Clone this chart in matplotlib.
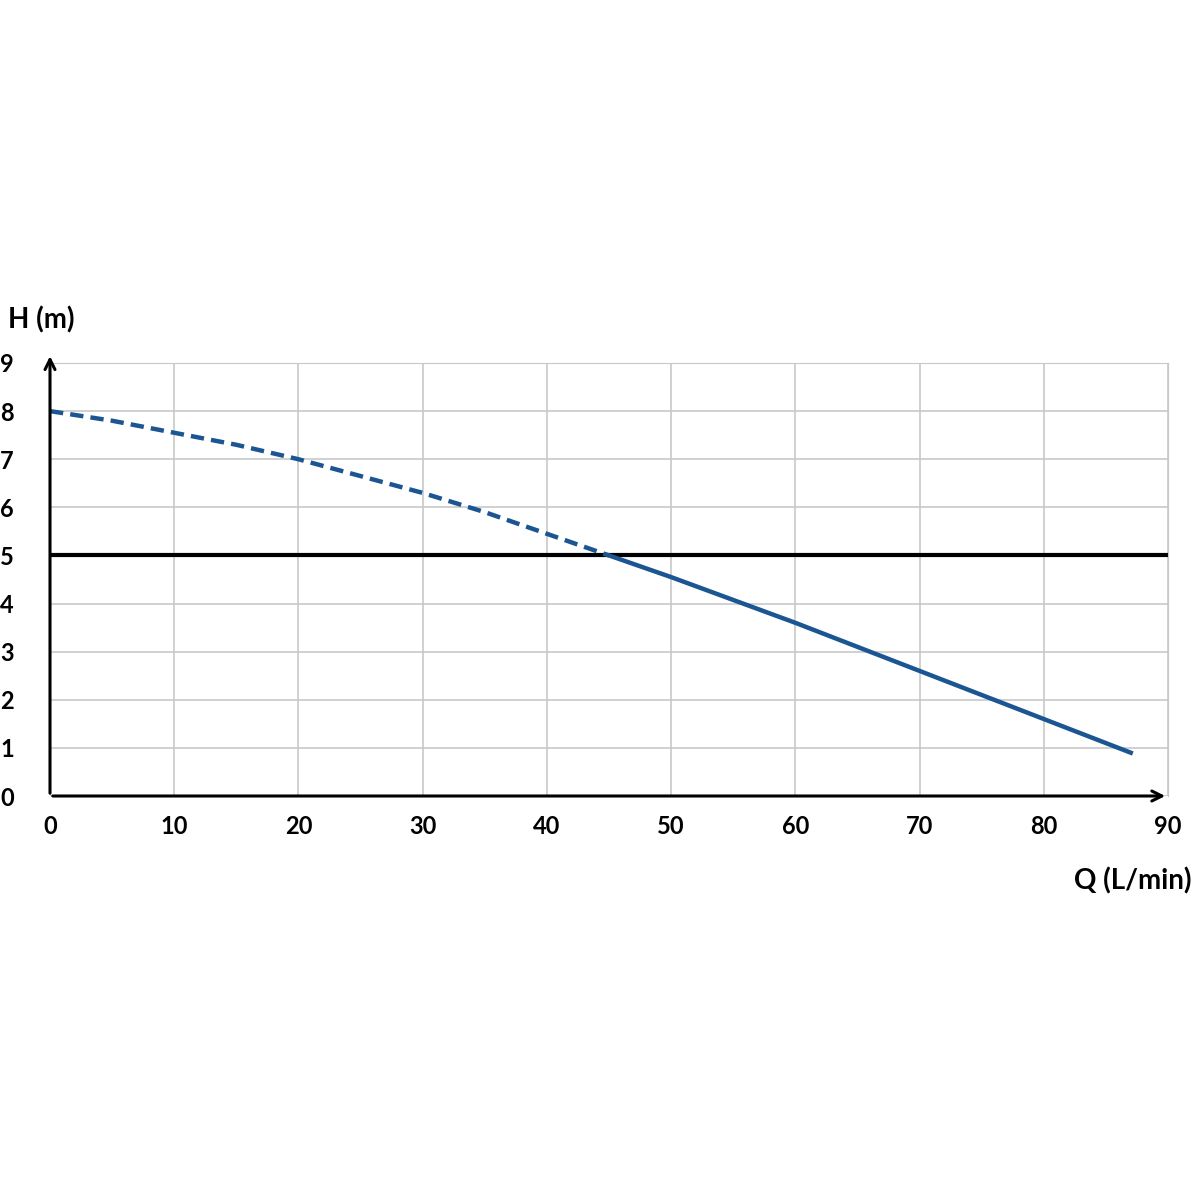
import matplotlib
matplotlib.use("Agg")
import matplotlib.pyplot as plt

q_dashed = [0, 5, 10, 15, 20, 25, 30, 35, 40, 45]
h_dashed = [8.0, 7.8, 7.55, 7.3, 7.0, 6.65, 6.3, 5.9, 5.45, 5.0]
q_solid = [45, 50, 60, 70, 80, 87]
h_solid = [5.0, 4.55, 3.6, 2.6, 1.6, 0.9]
h_limit = 5
x_ticks = list(range(0, 100, 10))
y_ticks = list(range(0, 10))

curve_color = "#1b5592"
plt.rcParams["font.family"] = ["Lato", "DejaVu Sans"]

fig = plt.figure(figsize=(12, 12), dpi=100)
ax = fig.add_axes([50 / 1200, 1 - 796 / 1200, 1118 / 1200, 433 / 1200])
ax.set_xlim(0, 90)
ax.set_ylim(0, 9)
ax.set_xticks(x_ticks)
ax.set_yticks(y_ticks)
ax.grid(True, color="#c8c8c8", linewidth=1.2)
for side in ("top", "right"):
    ax.spines[side].set_color("#c8c8c8")
for side in ("left", "bottom"):
    ax.spines[side].set_visible(False)
ax.tick_params(length=0, labelsize=17)
for lbl in ax.get_xticklabels() + ax.get_yticklabels():
    lbl.set_fontweight("bold")
ax.tick_params(axis="x", pad=14)
ax.tick_params(axis="y", pad=26)

# axis arrows
ax.annotate("", xy=(0, 9.2), xytext=(0, 0), xycoords="data",
            arrowprops=dict(arrowstyle="->", lw=2.2, color="black", mutation_scale=18),
            annotation_clip=False)
ax.annotate("", xy=(90, 0), xytext=(0, 0), xycoords="data",
            arrowprops=dict(arrowstyle="->", lw=2.2, color="black", mutation_scale=18),
            annotation_clip=False)

ax.axhline(h_limit, color="black", lw=3)
ax.plot(q_dashed, h_dashed, color=curve_color, lw=3.2, ls=(0, (3, 1.6)))
ax.plot(q_solid, h_solid, color=curve_color, lw=3.2)

fig.text(8 / 1200, 1 - 320 / 1200, "H (m)", fontsize=20, fontweight="bold", va="center")
fig.text(1192 / 1200, 1 - 881 / 1200, "Q (L/min)", fontsize=20, fontweight="bold",
         va="center", ha="right")

fig.savefig("out.png", dpi=100)
